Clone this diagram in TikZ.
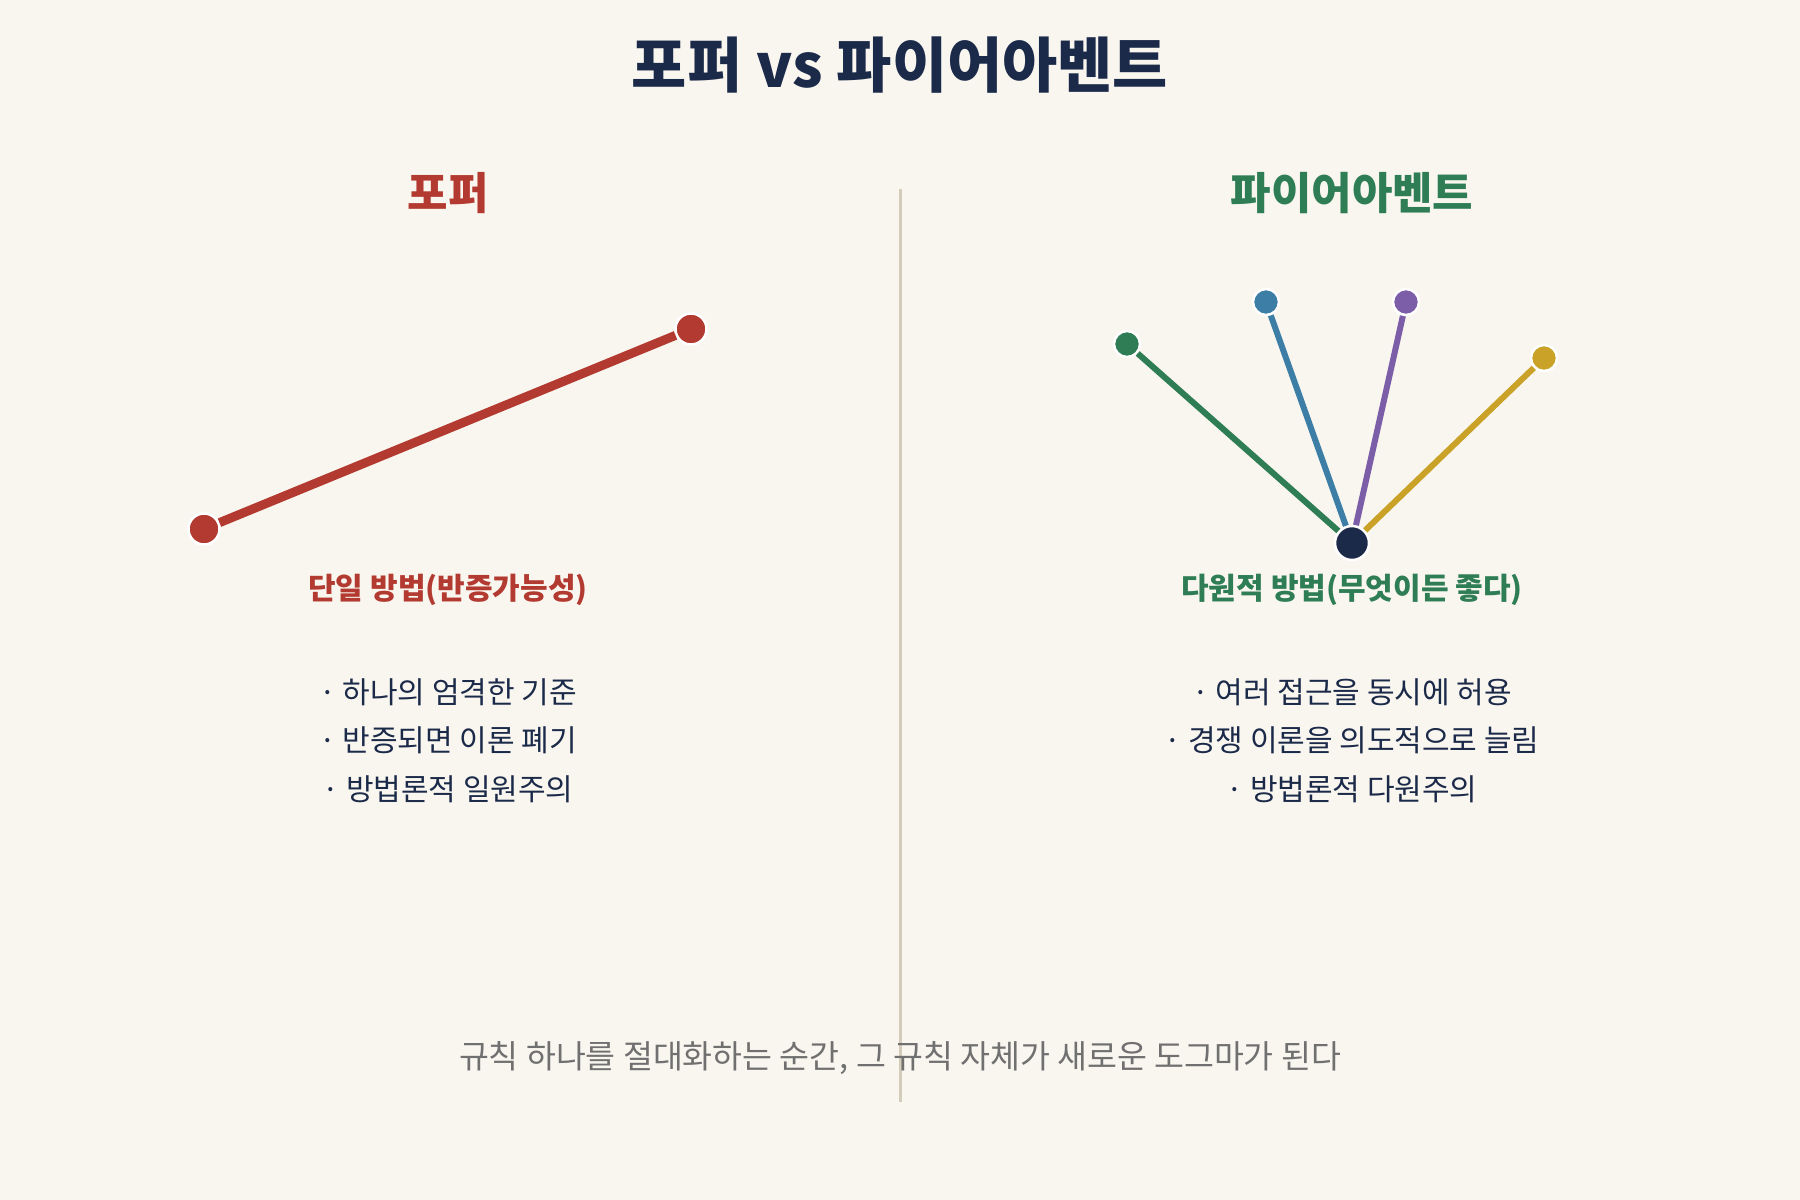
\documentclass[tikz,border=0pt]{standalone}
\usepackage{fontspec}
\setmainfont{Noto Sans CJK KR}

\definecolor{bgcream}{HTML}{F9F6EF}
\definecolor{inknavy}{HTML}{1C2A4A}
\definecolor{popred}{HTML}{B33A30}
\definecolor{feygreen}{HTML}{2E7D55}
\definecolor{feyblue}{HTML}{3D7EA6}
\definecolor{feypurple}{HTML}{7B5EA7}
\definecolor{feygold}{HTML}{C9A227}
\definecolor{splitline}{HTML}{D3CCBA}
\definecolor{notegray}{HTML}{707070}

\begin{document}
\begin{tikzpicture}[x=1pt, y=-1pt,
    dot/.style={circle, draw=white, line width=2.5pt, inner sep=0pt, minimum size=26pt},
    bigdot/.style={dot, minimum size=31pt},
    heading/.style={font=\bfseries\fontsize{44}{50}\selectfont},
    method/.style={font=\bfseries\fontsize{30}{34}\selectfont},
    bullet/.style={text=inknavy, font=\fontsize{30}{34}\selectfont}]
            \fill[bgcream] (0,0) rectangle (1800,1200);

            % Title
            \node[text=inknavy, font=\bfseries\fontsize{60}{66}\selectfont] (title) at (900, 65) {포퍼 vs 파이어아벤트};

            % Separating Line
            \draw[splitline, line width=3pt] (900, 189) -- (900, 1102);

            % LHS Drawing
            \node[heading, text=popred] (popper) at (448, 193) {포퍼};
            \node[bigdot, fill=popred] (pop-1) at (204, 529) {};
            \node[bigdot, fill=popred] (pop-2) at (691, 329) {};
            \draw[popred, line width=9pt] (pop-1) -- (pop-2);
            \node[method, text=popred] (pop-method) at (448, 590) {단일 방법(반증가능성)};
            \node[bullet] (pop-a) at (448, 692) {· 하나의 엄격한 기준};
            \node[bullet] (pop-b) at (448, 740) {· 반증되면 이론 폐기};
            \node[bullet] (pop-c) at (448, 789) {· 방법론적 일원주의};

            % RHS Drawing
            \node[heading, text=feygreen] (feyerabend) at (1352, 193) {파이어아벤트};
            \node[bigdot, fill=inknavy, minimum size=34pt] (hub) at (1352, 543) {};
            \node[dot, fill=feygreen] (fey-1) at (1127, 344) {};
            \node[dot, fill=feyblue] (fey-2) at (1266, 302) {};
            \node[dot, fill=feypurple] (fey-3) at (1406, 302) {};
            \node[dot, fill=feygold] (fey-4) at (1544, 358) {};
            \draw[feygreen, line width=6pt] (hub) -- (fey-1);
            \draw[feyblue, line width=6pt] (hub) -- (fey-2);
            \draw[feypurple, line width=6pt] (hub) -- (fey-3);
            \draw[feygold, line width=6pt] (hub) -- (fey-4);
            \node[method, text=feygreen] (fey-method) at (1352, 590) {다원적 방법(무엇이든 좋다)};
            \node[bullet] (fey-a) at (1352, 692) {· 여러 접근을 동시에 허용};
            \node[bullet] (fey-b) at (1352, 740) {· 경쟁 이론을 의도적으로 늘림};
            \node[bullet] (fey-c) at (1352, 789) {· 방법론적 다원주의};

            % Footer
            \node[text=notegray, font=\fontsize{32.5}{36}\selectfont] (moral) at (900, 1058) {규칙 하나를 절대화하는 순간, 그 규칙 자체가 새로운 도그마가 된다};
        \end{tikzpicture}
\end{document}
